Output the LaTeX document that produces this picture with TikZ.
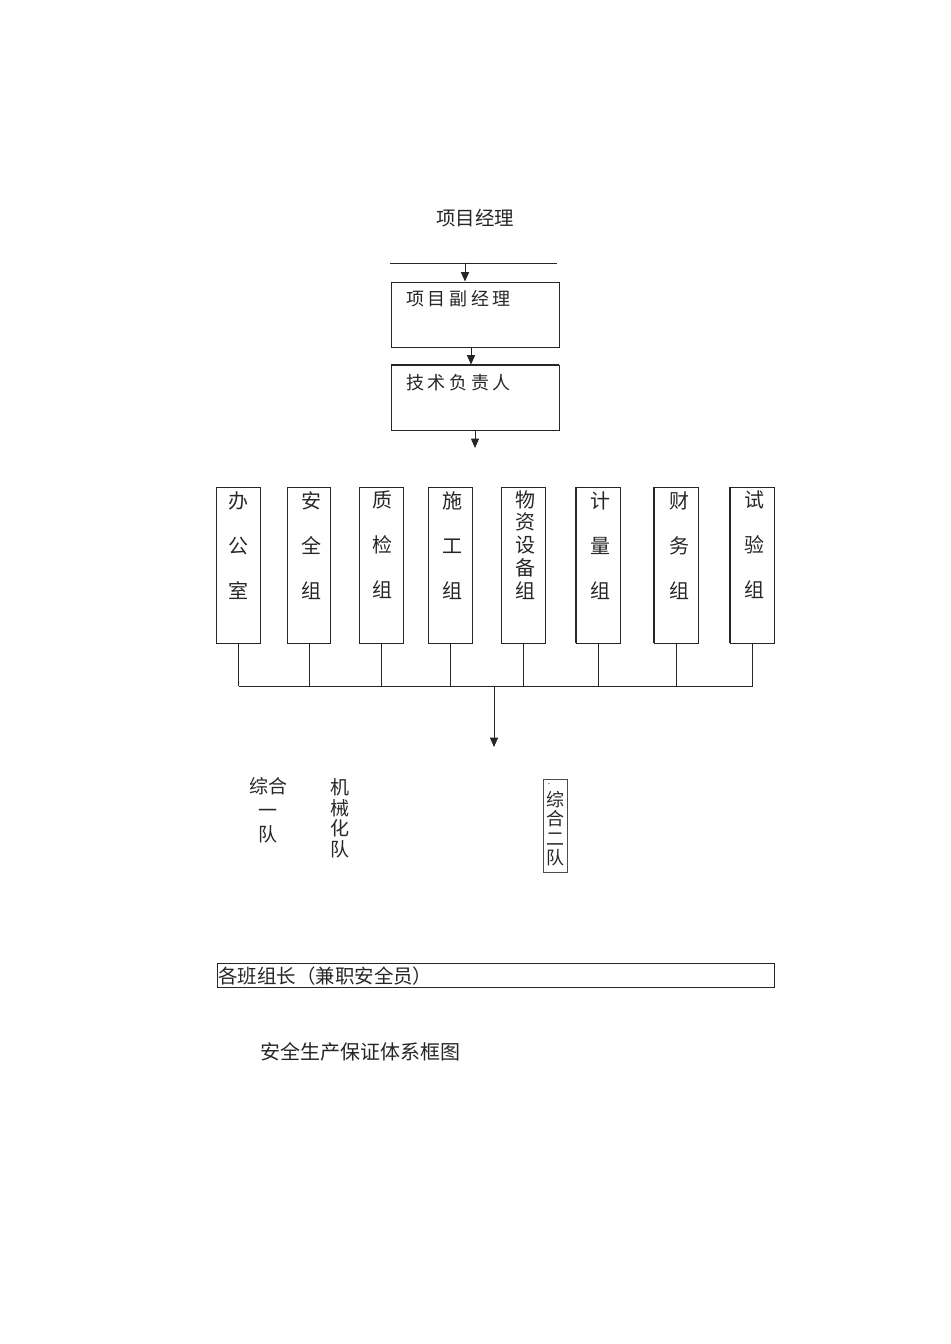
\documentclass[tikz,border=0pt]{standalone}
\usepackage{fontspec}
\setmainfont{Liberation Serif}
\newfontfamily\cjk{Noto Sans CJK SC}
\newfontfamily\cjkwide[LetterSpace=20]{Noto Sans CJK SC}
\usetikzlibrary{arrows.meta}
\begin{document}
\begin{tikzpicture}[x=0.75pt,y=-0.75pt,
  ln/.style={line width=0.7pt, draw=black!85},
  arr/.style={ln, -{Triangle[length=7pt,width=6pt]}},
  bigbox/.style={ln, draw, inner sep=0pt, minimum width=126pt, minimum height=48.75pt},
  colbox/.style={ln, draw, inner sep=0pt, minimum width=32.4pt, minimum height=117pt},
  coltext/.style={inner sep=0pt, align=center, anchor=north, text=black!85,
    font=\cjk\fontsize{15pt}{33.75pt}\selectfont},
  coltextfive/.style={coltext, font=\cjk\fontsize{15pt}{17.1pt}\selectfont},
  plain/.style={inner sep=0pt, text=black!85}]
\useasboundingbox (0,0) rectangle (950,1344);

% title
\node[plain, font=\cjk\fontsize{14.6pt}{16pt}\selectfont] (title) at (475,218) {项目经理};

% top line and first arrow
\coordinate (tl) at (390,263);
\coordinate (tr) at (557,263);
\draw[ln] (tl) -- (tr);
\coordinate (a0) at (465,263);

\node[bigbox] (pm) at (475,314.5) {};
\node[plain, anchor=west, font=\cjkwide\fontsize{13.5pt}{15pt}\selectfont] (pmt) at (406,299) {项目副经理};
\draw[arr] (a0) -- (a0 |- pm.north);

\node[bigbox] (tech) at (475,397.5) {};
\draw[line width=1.4pt, black!85] (tech.north west) -- (tech.north east);
\node[plain, anchor=west, font=\cjkwide\fontsize{13.5pt}{15pt}\selectfont] (techt) at (406,383) {技术负责人};
\coordinate (a1) at (471,347);
\draw[arr] (a1) -- (a1 |- tech.north);
\coordinate (a2) at (475,448);
\draw[arr] (tech.south -| a2) -- (a2);

% department columns
\node[colbox] (b1) at (238.5,565) {};
\node[colbox] (b2) at (309,565) {};
\node[colbox] (b3) at (381.5,565) {};
\node[colbox] (b4) at (450.5,565) {};
\node[colbox] (b5) at (523.5,565) {};
\node[colbox] (b6) at (598.5,565) {};
\node[colbox] (b7) at (676.5,565) {};
\node[colbox] (b8) at (752.5,565) {};
\foreach \b in {b6,b7,b8}{
  \draw[line width=1.5pt, black!85] (\b.north west) -- (\b.south west);
}

\node[coltext] (t1) at (238.5,491) {办\\公\\室};
\node[coltext] (t2) at (311,491) {安\\全\\组};
\node[coltext] (t3) at (382,491) {质\\检\\组};
\node[coltext] (t4) at (452,491) {施\\工\\组};
\node[coltextfive] (t5) at (525,490) {物\\资\\设\\备\\组};
\node[coltext] (t6) at (600,491) {计\\量\\组};
\node[coltext] (t7) at (679,491) {财\\务\\组};
\node[coltext] (t8) at (754,491) {试\\验\\组};

% bus
\coordinate (bus) at (0,686);
\foreach \b in {b1,b2,b3,b4,b5,b6,b7}{
  \draw[ln] (\b.south) -- (\b.south |- bus);
}
\draw[line width=1.4pt, black!85] (b8.south) -- (b8.south |- bus);
\draw[ln] (b1.south |- bus) -- (b8.south |- bus);
\coordinate (busmid) at (494,686);
\coordinate (a3) at (494,747);
\draw[arr] (busmid) -- (a3);

% teams
\node[coltext, font=\cjk\fontsize{14.25pt}{18pt}\selectfont] (team1) at (268,777.5) {综合\\一\\队};
\node[coltext, font=\cjk\fontsize{14.25pt}{15.4pt}\selectfont] (team2) at (340,778.5) {机\\械\\化\\队};
\node[draw=black!70, line width=0.7pt, inner sep=0pt, minimum width=18pt, minimum height=69.75pt] (team3) at (555,825.5) {};
\node[plain, font=\fontsize{7pt}{7pt}\selectfont] (dot) at (549,784) {.};
\node[coltext, font=\cjk\fontsize{13.5pt}{14.6pt}\selectfont] (team3t) at (555,791) {综\\合\\二\\队};

% bottom box
\node[ln, draw, inner sep=0pt, minimum width=417.75pt, minimum height=18pt] (leaders) at (495.5,975) {};
\node[plain, anchor=west, font=\cjk\fontsize{14.6pt}{16pt}\selectfont] (leaderst) at (218,976) {各班组长（兼职安全员）};

% caption
\node[plain, font=\cjk\fontsize{15pt}{16pt}\selectfont] (caption) at (360,1052) {安全生产保证体系框图};
\end{tikzpicture}
\end{document}
